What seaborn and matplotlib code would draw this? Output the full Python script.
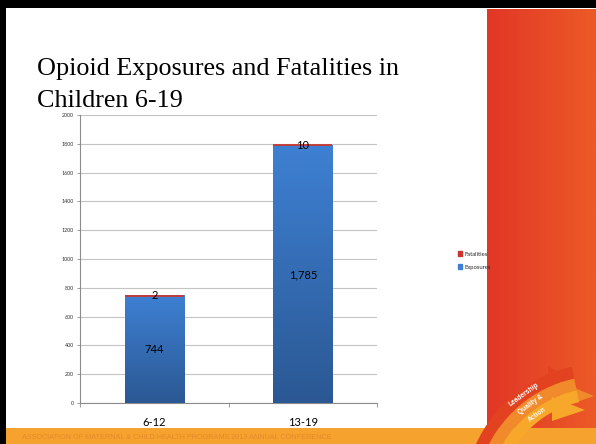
import numpy as np
import matplotlib
matplotlib.use('Agg')
import matplotlib.pyplot as plt
import seaborn as sns
from matplotlib.colors import LinearSegmentedColormap
from matplotlib.patches import Rectangle, Patch, Wedge, Polygon

# chart data
categories = ['6-12', '13-19']
exposures = [744, 1785]
fatalities = [2, 10]
exposure_labels = ['744', '1,785']
fatality_labels = ['2', '10']
y_ticks = list(range(0, 2001, 200))

BLUE_TOP = '#3e80d3'
BLUE_BOT = '#2b5893'
RED = '#c9362f'


def draw_slide(fig):
    bg = fig.add_axes([0, 0, 1, 1], zorder=0)
    bg.set_xlim(0, 596)
    bg.set_ylim(444, 0)
    bg.axis('off')

    # orange side strip
    grad = np.linspace(0, 1, 64).reshape(1, -1)
    strip = LinearSegmentedColormap.from_list('strip', ['#e23726', '#ec5a27'])
    bg.imshow(grad, extent=[487, 596, 428, 10], cmap=strip, aspect='auto')
    bg.set_xlim(0, 596)
    bg.set_ylim(444, 0)

    # footer band
    bg.add_patch(Rectangle((6, 428), 590, 16, color='#f5a22e', lw=0))
    bg.text(22, 437, 'ASSOCIATION OF MATERNAL & CHILD HEALTH PROGRAMS 2013 ANNUAL CONFERENCE',
            fontsize=5.2, color='#e58a2c', va='center', family='Liberation Sans')

    # logo: three curved arrows
    bands = [(136, '#e2421f', 'Leadership'), (124, '#f08a2a', 'Quality &'), (112, '#f7a72a', 'Action')]
    tips = [(548, 372, 392, 575), (560, 388, 404, 594), (552, 403, 417, 585)]
    for (r, col, txt), (x0, ya, yb, xt) in zip(bands, tips):
        bg.add_patch(Wedge((600, 500), r, 200, 258, width=12, color=col, lw=0))
        bg.add_patch(Polygon([(x0, ya - 6), (x0, yb + 4), (xt, (ya + yb) / 2)], color=col, lw=0))
        ang = 234
        th = np.radians(ang)
        bg.text(600 + (r - 6) * np.cos(th), 500 + (r - 6) * np.sin(th), txt, color='white',
                fontsize=4.8, fontweight='bold', ha='center', va='center',
                rotation=270 - ang, rotation_mode='anchor', family='Liberation Sans')

    # black frame
    bg.add_patch(Rectangle((0, 0), 6, 444, color='black', lw=0))
    bg.add_patch(Rectangle((0, 0), 596, 8, color='black', lw=0))

    # title
    bg.text(37, 75, 'Opioid Exposures and Fatalities in', fontsize=18.8,
            family='Liberation Serif', color='black', va='baseline')
    bg.text(37, 107, 'Children 6-19', fontsize=18.8,
            family='Liberation Serif', color='black', va='baseline')


def main():
    sns.set_style('white')
    plt.rcParams['font.family'] = ['Lato', 'DejaVu Sans']

    fig = plt.figure(figsize=(5.96, 4.44), dpi=100)
    draw_slide(fig)

    ax = fig.add_axes([80 / 596, 41 / 444, 297 / 596, 288 / 444], zorder=1)
    ax.patch.set_alpha(0)

    totals = [e + f for e, f in zip(exposures, fatalities)]
    sns.barplot(x=categories, y=totals, color=RED, width=0.4, saturation=1, ax=ax, zorder=2,
                linewidth=0)
    n_red = len(ax.patches)
    sns.barplot(x=categories, y=exposures, color=BLUE_TOP, width=0.4, saturation=1, ax=ax,
                zorder=3, linewidth=0)

    # thin fatality segments would vanish at this scale, so outline their tops
    for p in ax.patches[:n_red]:
        ax.plot([p.get_x(), p.get_x() + p.get_width()], [p.get_height()] * 2,
                color=RED, lw=1.3, solid_capstyle='butt', zorder=4)

    cmap = LinearSegmentedColormap.from_list('bar', [BLUE_BOT, BLUE_TOP])
    grad = np.linspace(0, 1, 256).reshape(-1, 1)
    for p in ax.patches[n_red:]:
        x0 = p.get_x()
        ax.imshow(grad, extent=[x0, x0 + p.get_width(), 0, p.get_height()], origin='lower',
                  cmap=cmap, aspect='auto', zorder=3.5, clip_path=p)

    ax.set_xlim(-0.5, 1.5)
    ax.set_ylim(0, 2000)
    ax.set_yticks(y_ticks)
    ax.grid(axis='y', color='#c4c4c4', lw=0.8, zorder=0)
    ax.set_axisbelow(True)

    for i in range(len(categories)):
        ax.text(i, exposures[i] / 2, exposure_labels[i], ha='center', va='center',
                fontsize=8, color='black', zorder=5)
        ax.text(i, exposures[i] + fatalities[i] / 2, fatality_labels[i], ha='center',
                va='center', fontsize=8, color='black', zorder=5)

    for s in ['top', 'right']:
        ax.spines[s].set_visible(False)
    for s in ['left', 'bottom']:
        ax.spines[s].set_color('#8c8c8c')
        ax.spines[s].set_linewidth(0.8)

    ax.tick_params(axis='y', labelsize=3.8, colors='#8c8c8c', labelcolor='#333333',
                   length=2.5, width=0.6, direction='out', left=True, pad=2)
    ax.tick_params(axis='x', labelsize=8, labelcolor='black', length=0, pad=10)
    ax.set_xticks([-0.5, 0.5, 1.5], minor=True)
    ax.tick_params(axis='x', which='minor', length=3, width=0.6, colors='#8c8c8c',
                   direction='out', bottom=True)
    ax.set_xlabel('')
    ax.set_ylabel('')

    handles = [Patch(color=RED, label='Fatalities'), Patch(color=BLUE_TOP, label='Exposures')]
    fig.legend(handles=handles, loc='upper left', bbox_to_anchor=(456 / 596, 1 - 249 / 444),
               frameon=False, fontsize=4.2, handlelength=0.7, handleheight=0.9,
               handletextpad=0.3, labelspacing=1.3, borderaxespad=0)

    fig.savefig('out.png', dpi=100)


if __name__ == '__main__':
    main()
